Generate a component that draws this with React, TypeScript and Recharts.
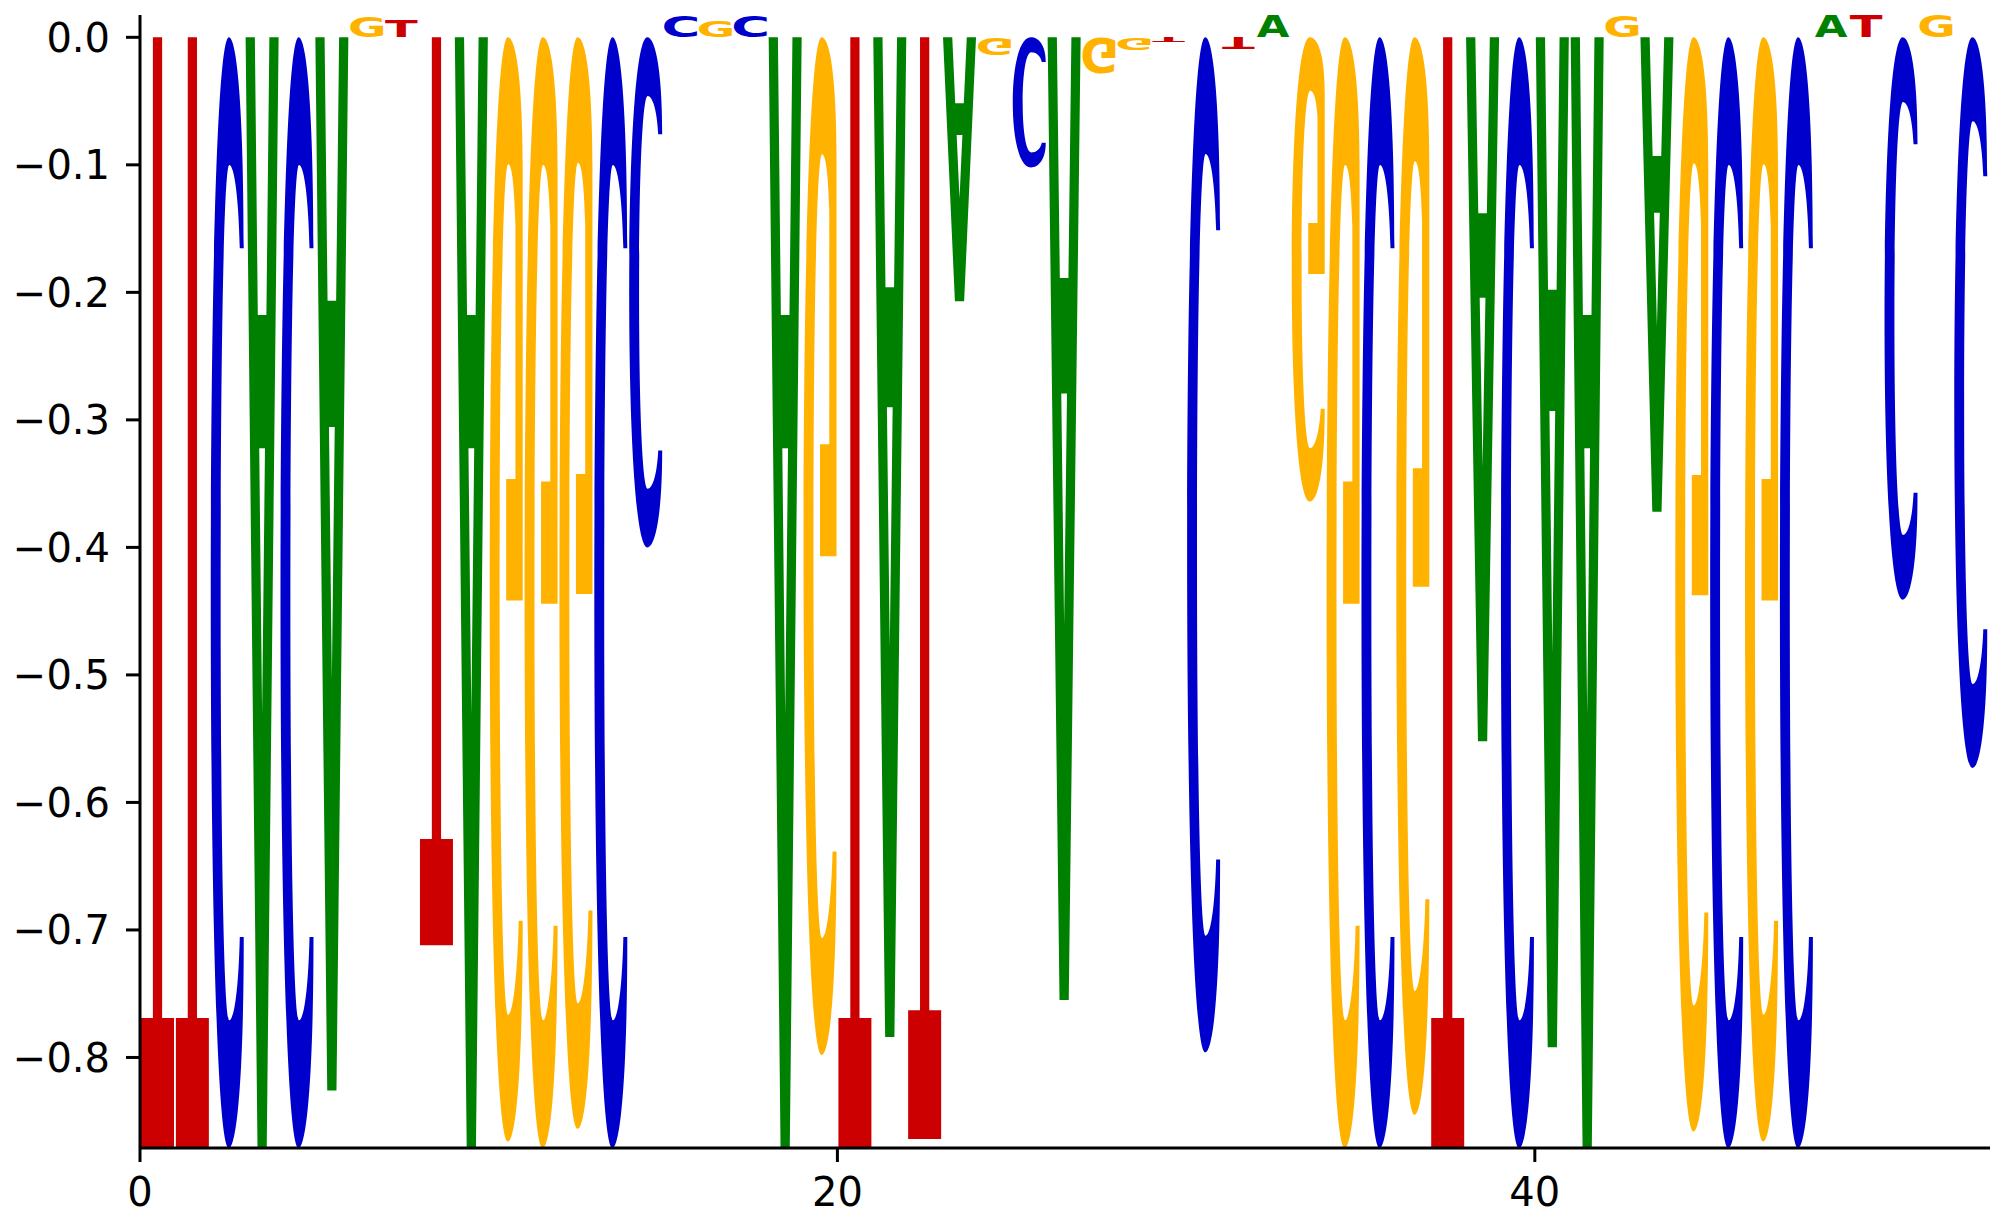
import React, { useMemo } from 'react';
import { Bar, ComposedChart, XAxis, YAxis } from 'recharts';

// one letter per position, score
const bases = [
  'T', 'T', 'C', 'A', 'C', 'A', 'G', 'T', 'T', 'A',
  'G', 'G', 'G', 'C', 'C', 'C', 'G', 'C', 'A', 'G',
  'T', 'A', 'T', 'A', 'G', 'C', 'A', 'G', 'G', 'T',
  'C', 'T', 'A', 'G', 'G', 'C', 'G', 'T', 'A', 'C',
  'A', 'A', 'G', 'A', 'G', 'C', 'G', 'C', 'A', 'T',
  'C', 'G', 'C',
];

const scores = [
  -0.871, -0.871, -0.871, -0.871, -0.871, -0.826, 0.016, 0.0135, -0.712, -0.871,
  -0.866, -0.871, -0.856, -0.871, -0.4, 0.017, 0.013, 0.017, -0.871, -0.798,
  -0.871, -0.784, -0.864, -0.207, -0.014, -0.102, -0.755, -0.029, -0.009, -0.004,
  -0.796, -0.009, 0.018, -0.364, -0.871, -0.871, -0.845, -0.871, -0.552, -0.871,
  -0.792, -0.871, 0.017, -0.372, -0.858, -0.871, -0.866, -0.871, 0.018, 0.017,
  -0.441, 0.018, -0.573,
];

const xTicks = [0, 20, 40];
const yTicks = [0, -0.1, -0.2, -0.3, -0.4, -0.5, -0.6, -0.7, -0.8];

const colors: Record<string, string> = {
  A: '#008000',
  C: '#0000CC',
  G: '#FFB300',
  T: '#CC0000',
};

// outlines for the tall letters, upright, in a 100x100 box (y down)
const letterPaths: Record<string, string> = {
  T: 'M0,0 L100,0 L100,11.7 L64,11.7 L64,100 L36,100 L36,11.7 L0,11.7 Z',
  A:
    'M0,100 L36,0 L64,0 L100,100 L72,100 L63,75 L37,75 L28,100 Z ' +
    'M41.3,63 L50,39 L58.7,63 Z',
  C:
    'M100,19 C100,6 78,0 55,0 C20,0 0,22 0,50 C0,78 20,100 55,100 ' +
    'C78,100 100,94 100,81 L88,81 C84,86 70,88.5 56,88.5 C40,88.5 30,72 30,50 ' +
    'C30,28 40,11.5 56,11.5 C70,11.5 84,14 88,19 Z',
  G:
    'M100,20 C100,6 78,0 55,0 C20,0 0,22 0,50 C0,78 20,100 55,100 ' +
    'C80,100 100,96 100,88 L100,49 L50,49 L50,60 L78,60 L78,83 ' +
    'C74,87 66,88.5 56,88.5 C40,88.5 30,72 30,50 C30,28 40,11.5 56,11.5 ' +
    'C70,11.5 84,15 88,20 Z',
};

const FONT = 'DejaVu Sans';
const GLYPH_PX = 1000;
const SMALL = 0.05;

type Metrics = { left: number; right: number; ascent: number; descent: number };

function measureGlyphs(): Record<string, Metrics> {
  const out: Record<string, Metrics> = {};
  const ctx = document.createElement('canvas').getContext('2d');
  for (const ch of 'ACGT') {
    if (!ctx) {
      out[ch] = { left: 0, right: GLYPH_PX * 0.7, ascent: GLYPH_PX * 0.73, descent: 0 };
      continue;
    }
    ctx.font = `bold ${GLYPH_PX}px "${FONT}"`;
    const m = ctx.measureText(ch);
    out[ch] = {
      left: m.actualBoundingBoxLeft,
      right: m.actualBoundingBoxRight,
      ascent: m.actualBoundingBoxAscent,
      descent: m.actualBoundingBoxDescent,
    };
  }
  return out;
}

const tickStyle = { fill: '#000', fontSize: 40, fontFamily: FONT };
const lineStyle = { stroke: '#000', strokeWidth: 3 };

const fmtY = (v: number) => (Math.abs(v) < 1e-9 ? '0.0' : v.toFixed(1).replace('-', '\u2212'));

export default function App() {
  const metrics = useMemo(measureGlyphs, []);

  const rows = bases.map((base, i) => ({
    pos: i + 0.5,
    base,
    score: scores[i],
    range: scores[i] < 0 ? [scores[i], 0] : [0, scores[i]],
  }));

  const glyph = (props: any) => {
    const { x, y, width, height, payload } = props;
    const top = Math.min(y, y + height);
    const h = Math.abs(height);
    if (!(h > 0) || !(width > 0)) return <g />;
    const flip = payload.score < 0;
    const fill = colors[payload.base];

    if (Math.abs(payload.score) >= SMALL) {
      const sx = width / 100;
      const sy = h / 100;
      const transform = flip
        ? `translate(${x},${top + h}) scale(${sx},${-sy})`
        : `translate(${x},${top}) scale(${sx},${sy})`;
      return (
        <path d={letterPaths[payload.base]} transform={transform} fill={fill} fillRule="evenodd" />
      );
    }

    const m = metrics[payload.base];
    const sx = width / (m.left + m.right);
    const sy = h / (m.ascent + m.descent);
    const transform = flip
      ? `translate(${x},${top + h}) scale(${sx},${-sy}) translate(${m.left},${m.ascent})`
      : `translate(${x},${top}) scale(${sx},${sy}) translate(${m.left},${m.ascent})`;
    return (
      <text transform={transform} fontSize={GLYPH_PX} fontFamily={FONT} fontWeight="bold" fill={fill}>
        {payload.base}
      </text>
    );
  };

  return (
    <div style={{ width: 1990, height: 1226, overflow: 'hidden', background: '#fff' }}>
      <style>{'body{margin:0;overflow:hidden}'}</style>
      <ComposedChart
        width={2023}
        height={1226}
        data={rows}
        margin={{ top: 15, right: 0, bottom: 0, left: 0 }}
      >
        <XAxis
          xAxisId="top"
          orientation="top"
          type="number"
          dataKey="pos"
          domain={[0, 54]}
          allowDataOverflow
          height={0}
          tick={false}
          tickLine={false}
          axisLine={lineStyle}
        />
        <XAxis
          type="number"
          dataKey="pos"
          domain={[0, 54]}
          allowDataOverflow
          ticks={xTicks}
          height={78}
          tick={tickStyle}
          tickLine={lineStyle}
          axisLine={lineStyle}
          tickSize={14}
          tickMargin={16}
        />
        <YAxis
          type="number"
          domain={[-0.871, 0.0175]}
          allowDataOverflow
          ticks={yTicks}
          width={140}
          tick={tickStyle}
          tickLine={lineStyle}
          axisLine={lineStyle}
          tickSize={14}
          tickMargin={16}
          tickFormatter={fmtY}
        />
        <Bar dataKey="range" barSize={33} isAnimationActive={false} shape={glyph} />
      </ComposedChart>
    </div>
  );
}
